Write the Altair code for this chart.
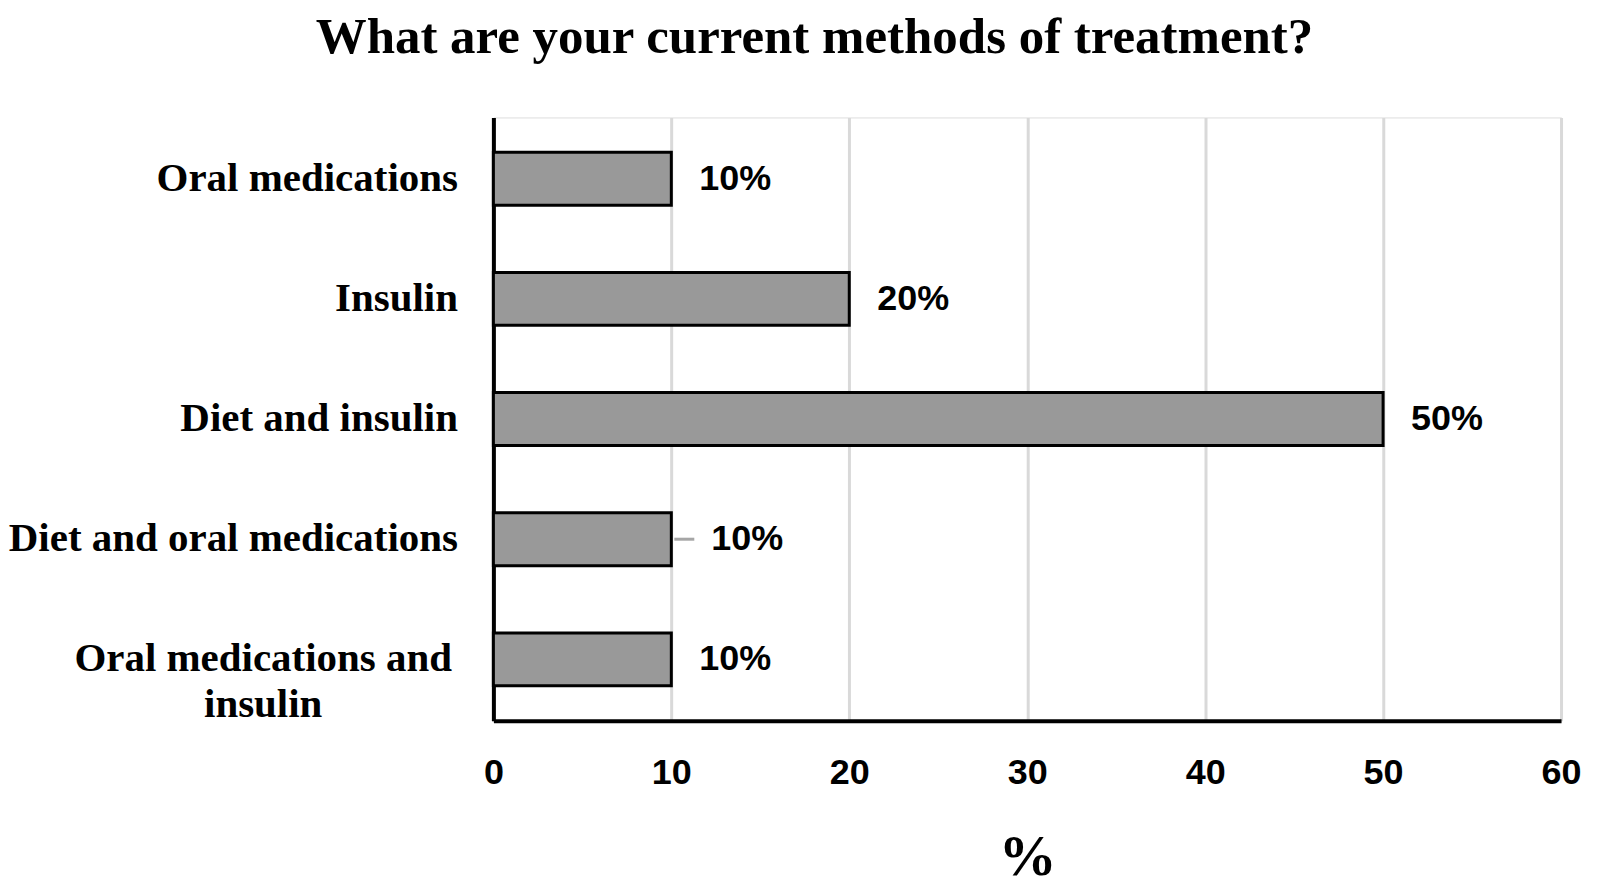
import altair as alt
import pandas as pd

categories = ["Oral medications", "Insulin", "Diet and insulin",
              "Diet and oral medications", "Oral medications and insulin"]
values = [10, 20, 50, 10, 10]
labels = ["10%", "20%", "50%", "10%", "10%"]
leader = [False, False, False, True, False]
x_ticks = [0, 10, 20, 30, 40, 50, 60]

df = pd.DataFrame({"category": categories, "value": values,
                   "label": labels, "leader": leader})

WRAP = "Oral medications and insulin"
test = f"datum.value == '{WRAP}'"

y_enc = alt.Y(
    "category:N", sort=categories, title=None,
    scale=alt.Scale(paddingInner=0.56, paddingOuter=0.29),
    axis=alt.Axis(
        domainColor="black", domainWidth=4, ticks=False, grid=False,
        labelFont="Liberation Serif", labelFontWeight="bold", labelFontSize=41,
        labelColor="black", labelLimit=0, labelOverlap=False,
        labelLineHeight=46,
        labelExpr=f"datum.value == '{WRAP}' ? ['Oral medications and', 'insulin'] : datum.value",
        labelAlign={"condition": {"test": test, "value": "center"}, "value": "right"},
        labelPadding={"condition": {"test": test, "value": 231}, "value": 36},
    ),
)

x_enc = alt.X(
    "value:Q", title="%",
    scale=alt.Scale(domain=[0, 60], nice=False),
    axis=alt.Axis(
        values=x_ticks, grid=True, gridColor="#d9d9d9", gridWidth=3,
        domainColor="black", domainWidth=4, ticks=False,
        labelFont="Liberation Sans", labelFontWeight="bold", labelFontSize=36,
        labelColor="black", labelPadding=35, labelFlush=False,
        titleFont="Liberation Serif", titleFontWeight="bold", titleFontSize=58,
        titleColor="black", titlePadding=38,
    ),
)

base = alt.Chart(df)

bars = base.mark_bar(fill="#999999", stroke="black", strokeWidth=3).encode(
    x=x_enc, y=y_enc)

text_normal = base.transform_filter("!datum.leader").mark_text(
    align="left", baseline="middle", dx=28,
    font="Liberation Sans", fontWeight="bold", fontSize=36, color="black",
).encode(x="value:Q", y=alt.Y("category:N", sort=categories), text="label:N")

text_leader = base.transform_filter("datum.leader").mark_text(
    align="left", baseline="middle", dx=40,
    font="Liberation Sans", fontWeight="bold", fontSize=36, color="black",
).encode(x="value:Q", y=alt.Y("category:N", sort=categories), text="label:N")

leader_rule = base.transform_filter("datum.leader").mark_rule(
    color="#a6a6a6", strokeWidth=3, xOffset=3, x2Offset=23,
).encode(x="value:Q", x2="value:Q", y=alt.Y("category:N", sort=categories))

chart = alt.layer(bars, leader_rule, text_normal, text_leader).properties(
    width=1069, height=604,
    padding={"left": 486, "top": 109, "right": 30, "bottom": 178},
    autosize=alt.AutoSizeParams(type="none"),
    title=alt.TitleParams(
        "What are your current methods of treatment?",
        font="Liberation Serif", fontWeight="bold", fontSize=51, color="black",
        anchor="middle", dx=-213, offset=54,
    ),
).configure_view(stroke=None).configure(background="white")

chart.save("out.html", embed_options={"renderer": "svg", "actions": False})
